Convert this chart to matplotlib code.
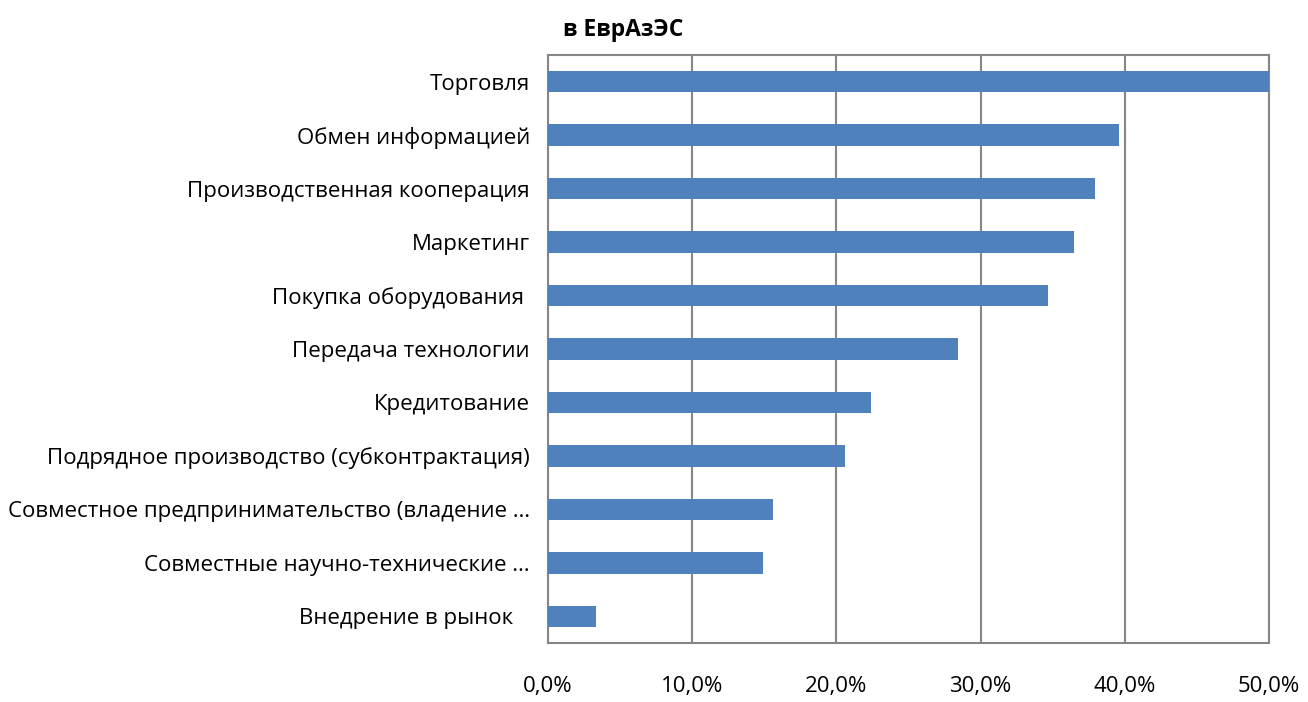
import matplotlib
matplotlib.use("Agg")
import matplotlib.pyplot as plt
from matplotlib.ticker import FuncFormatter

categories = [
    "Торговля",
    "Обмен информацией",
    "Производственная кооперация",
    "Маркетинг",
    "Покупка оборудования ",
    "Передача технологии",
    "Кредитование",
    "Подрядное производство (субконтрактация)",
    "Совместное предпринимательство (владение …",
    "Совместные научно-технические …",
    "Внедрение в рынок   ",
]
values = [50.0, 39.6, 37.9, 36.5, 34.7, 28.4, 22.4, 20.6, 15.6, 14.9, 3.3]
ticks = [0, 10, 20, 30, 40, 50]

plt.rcParams['font.family'] = ['Open Sans', 'DejaVu Sans']

fig = plt.figure(figsize=(13.08, 7.02), dpi=100)
ax = fig.add_axes([548/1308, 1-643/702, (1269-548)/1308, (643-55)/702])

y = list(range(len(categories)))
ax.barh(y, values, height=0.4, color="#4F81BD", zorder=3)
ax.set_ylim(len(categories)-0.5, -0.5)
ax.set_xlim(0, 50)
ax.set_xticks(ticks)
ax.xaxis.set_major_formatter(FuncFormatter(lambda v, p: f"{v:.1f}%".replace(".", ",")))
ax.set_yticks(y)
ax.set_yticklabels(categories, fontsize=16)
ax.tick_params(axis='x', labelsize=16, length=0, pad=24)
ax.tick_params(axis='y', length=0, pad=13)
ax.grid(axis='x', color="#868686", linewidth=1.5, zorder=0)
for s in ax.spines.values():
    s.set_color("#868686")
    s.set_linewidth(1.5)

fig.text(563/1308, 1-30/702, "в ЕврАзЭС", fontsize=16.5, fontweight='bold', va='center', ha='left')

fig.savefig("out.png", dpi=100)
